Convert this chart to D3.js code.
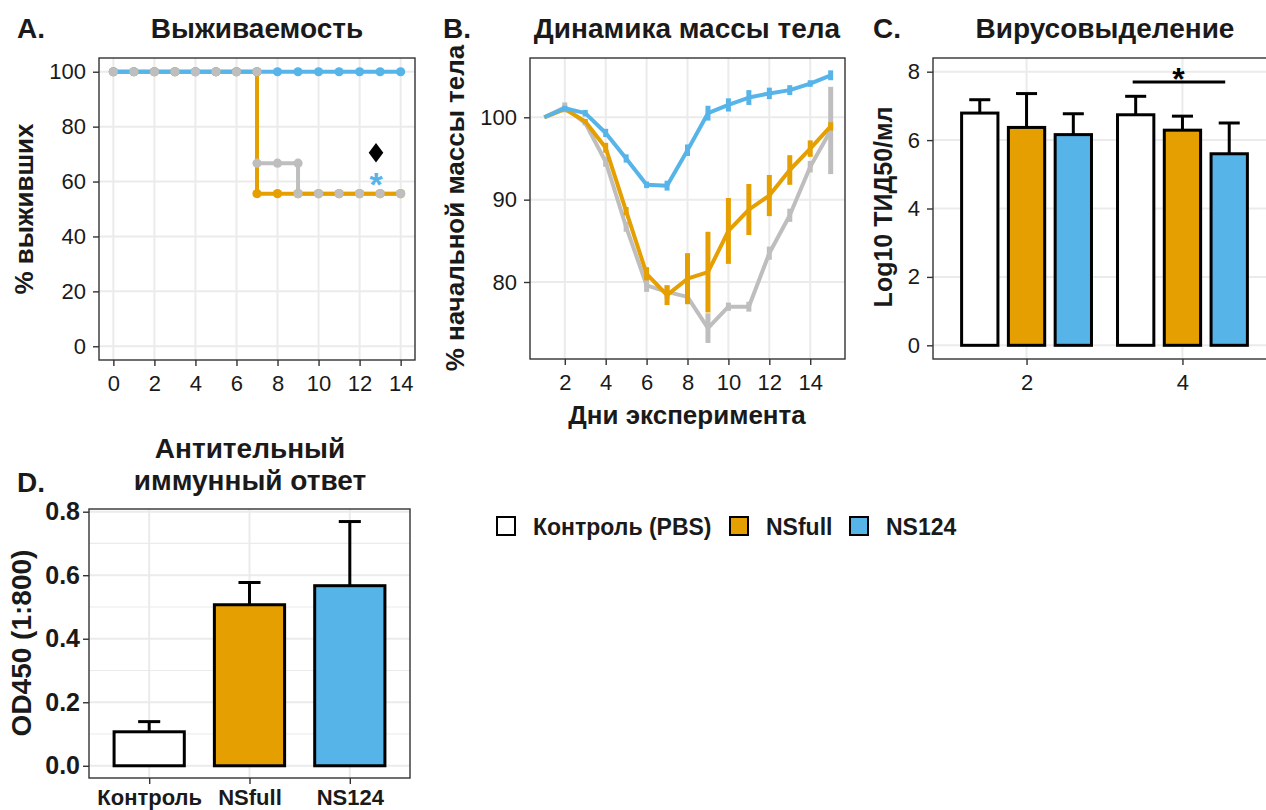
<!DOCTYPE html>
<html>
<head>
<meta charset="utf-8">
<script src="https://cdn.jsdelivr.net/npm/d3@7"></script>
<style>
body{margin:0;background:#fff;}
svg{display:block;font-family:"Liberation Sans",Arial,sans-serif;}
</style>
</head>
<body>
<script>
var colControl = "#BEBEBE", colNSfull = "#E69F00", colNS124 = "#56B4E9";

// A. survival (duplicate days give the KM steps)
var survDaysControl = [0,1,2,3,4,5,6,7,7,8,9,9,10,11,12,13,14];
var survControl = [100,100,100,100,100,100,100,100,66.7,66.7,66.7,55.6,55.6,55.6,55.6,55.6,55.6];
var survDaysNSfull = [0,1,2,3,4,5,6,7,7,8,9,10,11,12,13,14];
var survNSfull = [100,100,100,100,100,100,100,100,55.6,55.6,55.6,55.6,55.6,55.6,55.6,55.6];
var survDaysNS124 = [0,1,2,3,4,5,6,7,8,9,10,11,12,13,14];
var survNS124 = [100,100,100,100,100,100,100,100,100,100,100,100,100,100,100];
var survMarkDay = 12.8;
var survMarkY = [70.5, 61.5];

// B. body weight, % of initial
var weightDays = [1,2,3,4,5,6,7,8,9,10,11,12,13,14,15];
var weightControl = [100,101.2,99.3,94.6,86.7,79.6,78.8,78.2,74.4,77.0,77.0,83.5,88.1,94.0,98.4];
var weightControlSe = [0,0.6,0.3,0.6,0.6,0.8,0.8,0.5,1.8,0.5,0.6,0.8,0.8,0.7,5.3];
var weightNSfull = [100,101.0,99.5,96.3,88.6,81.0,78.4,80.4,81.2,86.2,88.8,90.5,93.6,96.2,98.9];
var weightNSfullSe = [0,0.3,0.3,0.6,0.5,0.8,1.2,3.1,4.9,4.0,3.1,2.5,1.8,1.0,0.5];
var weightNS124 = [100,101.1,100.5,98.1,95.0,91.8,91.7,96.0,100.5,101.5,102.4,102.9,103.3,104.1,105.1];
var weightNS124Se = [0,0.3,0.4,0.5,0.5,0.4,0.6,0.7,0.9,0.8,0.9,0.7,0.6,0.4,0.6];

// C. virus shedding
var shedDays = ["2","4"];
var shedControl = [6.79,6.74], shedControlSe = [0.39,0.54];
var shedNSfull = [6.37,6.29], shedNSfullSe = [0.99,0.41];
var shedNS124 = [6.16,5.60], shedNS124Se = [0.61,0.90];
var shedSigY = 7.7;

// D. antibody response
var abGroups = ["Контроль","NSfull","NS124"];
var abMean = [0.107,0.507,0.567];
var abSe = [0.032,0.070,0.202];

var legendLabels = ["Контроль (PBS)","NSfull","NS124"];
var legendColors = ["#ffffff", colNSfull, colNS124];

var W = 1266, H = 810;
var svg = d3.select("body").append("svg").attr("width",W).attr("height",H);
svg.append("rect").attr("width",W).attr("height",H).attr("fill","#fff");

var gridCol = "#EBEBEB", borderCol = "#333333", textCol = "#1a1a1a";
var titleSize = 28, axisTitleSize = 26, tickSize = 22;

function text(g, x, y, s, size, bold, anchor){
    return g.append("text").attr("x",x).attr("y",y).text(s)
        .attr("font-size",size).attr("font-weight",bold?"bold":"normal")
        .attr("fill",textCol).attr("text-anchor",anchor||"middle")
        .attr("dominant-baseline","central");
}

// panel frame: grid + clipped data layer, border and axes added in finish()
function panel(x0, y0, w, h, id){
    var g = svg.append("g").attr("transform","translate("+x0+","+y0+")");
    g.append("clipPath").attr("id",id).append("rect").attr("width",w).attr("height",h);
    var p = {g:g, w:w, h:h, x0:x0, y0:y0};
    p.grid = g.append("g");
    p.data = g.append("g").attr("clip-path","url(#"+id+")");
    return p;
}
function finish(p, xs, xTicks, xFmt, ys, yTicks, yFmt, opt){
    opt = opt || {};
    var g = p.g;
    if(opt.yMinor) opt.yMinor.forEach(function(v){
        p.grid.append("line").attr("x1",0).attr("x2",p.w).attr("y1",ys(v)).attr("y2",ys(v))
            .attr("stroke",gridCol).attr("stroke-width",1.2);
    });
    yTicks.forEach(function(v){
        p.grid.append("line").attr("x1",0).attr("x2",p.w).attr("y1",ys(v)).attr("y2",ys(v))
            .attr("stroke",gridCol).attr("stroke-width",2);
    });
    xTicks.forEach(function(v){
        p.grid.append("line").attr("y1",0).attr("y2",p.h).attr("x1",xs(v)).attr("x2",xs(v))
            .attr("stroke",gridCol).attr("stroke-width",2);
    });
    g.append("rect").attr("width",p.w).attr("height",p.h).attr("fill","none")
        .attr("stroke",borderCol).attr("stroke-width",1.4);
    var ax = g.append("g").attr("transform","translate(0,"+p.h+")")
        .call(d3.axisBottom(xs).tickValues(xTicks).tickFormat(xFmt).tickSize(6).tickPadding(opt.xPad||9));
    var ay = g.append("g")
        .call(d3.axisLeft(ys).tickValues(yTicks).tickFormat(yFmt).tickSize(6).tickPadding(opt.yPad||7));
    [[ax,opt.xSize||tickSize],[ay,opt.ySize||tickSize]].forEach(function(a){
        a[0].select(".domain").remove();
        a[0].selectAll("line").attr("stroke",borderCol).attr("stroke-width",1.4);
        a[0].selectAll("text").attr("font-size",a[1]).attr("fill",textCol)
            .attr("font-family","'Liberation Sans',Arial,sans-serif")
            .attr("font-weight",opt.bold?"bold":"normal");
    });
}
function yTitle(x, y, s, size){
    svg.append("text").attr("transform","translate("+x+","+y+") rotate(-90)")
        .text(s).attr("font-size",size||axisTitleSize).attr("font-weight","bold").attr("fill",textCol)
        .attr("text-anchor","middle").attr("dominant-baseline","central");
}

// ---------- A ----------
var pA = panel(99,58,316,302,"clipA");
var xA = d3.scaleLinear().domain([-0.7,14.7]).range([0,pA.w]);
var yA = d3.scaleLinear().domain([-5,105]).range([pA.h,0]);
var survGroups = [
    {days:survDaysControl, vals:survControl, col:colControl},
    {days:survDaysNSfull, vals:survNSfull, col:colNSfull},
    {days:survDaysNS124, vals:survNS124, col:colNS124}
];
var lineA = d3.line().x(function(d){return xA(d[0]);}).y(function(d){return yA(d[1]);});
survGroups.forEach(function(s){
    s.pts = s.days.map(function(d,i){return [d,s.vals[i]];});
    pA.data.append("path").attr("d",lineA(s.pts)).attr("fill","none")
        .attr("stroke",s.col).attr("stroke-width",4);
});
[survGroups[1],survGroups[2],survGroups[0]].forEach(function(s){
    pA.data.selectAll(null).data(s.pts).enter().append("circle")
        .attr("cx",function(d){return xA(d[0]);}).attr("cy",function(d){return yA(d[1]);})
        .attr("r",4.6).attr("fill",s.col);
});
// diamond marker (control vs NSfull) and blue asterisk (NS124)
pA.g.append("path").attr("d",d3.symbol(d3.symbolSquare,190)())
    .attr("transform","translate("+xA(survMarkDay)+","+yA(survMarkY[0])+") scale(0.75,1) rotate(45)")
    .attr("fill","#000");
text(pA.g, xA(survMarkDay), yA(survMarkY[1]), "*", 34, true).attr("fill",colNS124)
    .attr("dominant-baseline","alphabetic").attr("dy",19);
finish(pA, xA, [0,2,4,6,8,10,12,14], d3.format("d"), yA, [0,20,40,60,80,100], d3.format("d"));
text(svg, 257, 28, "Выживаемость", titleSize, true);
text(svg, 17, 28, "A.", titleSize, true, "start");
yTitle(24, 209, "% выживших");

// ---------- B ----------
var pB = panel(530,58,315,301,"clipB");
var xB = d3.scaleLinear().domain([0.3,15.7]).range([0,pB.w]);
var yB = d3.scaleLinear().domain([70.65,107.2]).range([pB.h,0]);
var weightGroups = [
    {vals:weightControl, se:weightControlSe, col:colControl},
    {vals:weightNSfull, se:weightNSfullSe, col:colNSfull},
    {vals:weightNS124, se:weightNS124Se, col:colNS124}
];
var lineB = d3.line().x(function(d){return xB(d.day);}).y(function(d){return yB(d.v);});
weightGroups.forEach(function(s){
    var pts = weightDays.map(function(d,i){return {day:d, v:s.vals[i], se:s.se[i]};});
    var g = pB.data.append("g");
    g.append("path").attr("d",lineB(pts)).attr("fill","none")
        .attr("stroke",s.col).attr("stroke-width",4).attr("stroke-linejoin","round");
    g.selectAll("line.err").data(pts.filter(function(d){return d.se>0;})).enter().append("line")
        .attr("x1",function(d){return xB(d.day);}).attr("x2",function(d){return xB(d.day);})
        .attr("y1",function(d){return yB(d.v-d.se);}).attr("y2",function(d){return yB(d.v+d.se);})
        .attr("stroke",s.col).attr("stroke-width",5);
});
finish(pB, xB, [2,4,6,8,10,12,14], d3.format("d"), yB, [80,90,100], d3.format("d"));
text(svg, 687, 28, "Динамика массы тела", titleSize, true);
text(svg, 443, 28, "B.", titleSize, true, "start");
yTitle(455, 208, "% начальной массы тела");
text(svg, 687, 415, "Дни эксперимента", axisTitleSize, true);

// ---------- C ----------
var pC = panel(933,58,343,301,"clipC");
var xC = d3.scaleLinear().domain([0.4,2.6]).range([0,pC.w]);
var yC = d3.scaleLinear().domain([-0.4,8.4]).range([pC.h,0]);
var shedGroups = [
    {vals:shedControl, se:shedControlSe, col:"#ffffff", off:-0.3},
    {vals:shedNSfull, se:shedNSfullSe, col:colNSfull, off:0},
    {vals:shedNS124, se:shedNS124Se, col:colNS124, off:0.3}
];
var barWC = 0.233, capC = 0.135;
shedGroups.forEach(function(s){
    shedDays.forEach(function(day,i){
        var cx = i+1+s.off;
        pC.data.append("line").attr("x1",xC(cx)).attr("x2",xC(cx))
            .attr("y1",yC(s.vals[i])).attr("y2",yC(s.vals[i]+s.se[i]))
            .attr("stroke","#000").attr("stroke-width",3);
        pC.data.append("line").attr("x1",xC(cx-capC/2)).attr("x2",xC(cx+capC/2))
            .attr("y1",yC(s.vals[i]+s.se[i])).attr("y2",yC(s.vals[i]+s.se[i]))
            .attr("stroke","#000").attr("stroke-width",3);
        pC.data.append("rect").attr("x",xC(cx-barWC/2)).attr("width",xC(barWC)-xC(0))
            .attr("y",yC(s.vals[i])).attr("height",yC(0)-yC(s.vals[i]))
            .attr("fill",s.col).attr("stroke","#000").attr("stroke-width",3);
    });
});
pC.data.append("line").attr("x1",xC(2-0.3)-3).attr("x2",xC(2+0.3)-4)
    .attr("y1",yC(shedSigY)).attr("y2",yC(shedSigY)).attr("stroke","#000").attr("stroke-width",3);
text(pC.g, xC(2)-4, yC(shedSigY), "*", 32, true).attr("fill","#000")
    .attr("dominant-baseline","alphabetic").attr("dy",8);
finish(pC, xC, [1,2], function(d){return shedDays[d-1];}, yC, [0,2,4,6,8], d3.format("d"));
text(svg, 1105, 28, "Вирусовыделение", titleSize, true);
text(svg, 873, 28, "C.", titleSize, true, "start");
yTitle(883, 207, "Log10 ТИД50/мл", 25);

// ---------- D ----------
var pD = panel(89,509,321,269,"clipD");
var xD = d3.scaleLinear().domain([0.4,3.6]).range([0,pD.w]);
var yD = d3.scaleLinear().domain([-0.0385,0.8085]).range([pD.h,0]);
var barWD = 0.7, capD = 0.22;
abGroups.forEach(function(name,i){
    var cx = i+1, col = legendColors[i];
    pD.data.append("line").attr("x1",xD(cx)).attr("x2",xD(cx))
        .attr("y1",yD(abMean[i])).attr("y2",yD(abMean[i]+abSe[i]))
        .attr("stroke","#000").attr("stroke-width",3);
    pD.data.append("line").attr("x1",xD(cx-capD/2)).attr("x2",xD(cx+capD/2))
        .attr("y1",yD(abMean[i]+abSe[i])).attr("y2",yD(abMean[i]+abSe[i]))
        .attr("stroke","#000").attr("stroke-width",3);
    pD.data.append("rect").attr("x",xD(cx-barWD/2)).attr("width",xD(barWD)-xD(0))
        .attr("y",yD(abMean[i])).attr("height",yD(0)-yD(abMean[i]))
        .attr("fill",col).attr("stroke","#000").attr("stroke-width",3);
});
finish(pD, xD, [1,2,3], function(d){return abGroups[d-1];}, yD, [0,0.2,0.4,0.6,0.8], d3.format(".1f"),
    {bold:true, yMinor:[0.1,0.3,0.5,0.7], ySize:25, xSize:22, yPad:3, xPad:5});
text(svg, 250, 448, "Антительный", titleSize, true);
text(svg, 250, 480, "иммунный ответ", titleSize, true);
text(svg, 17, 482, "D.", titleSize, true, "start");
yTitle(21, 643, "OD450 (1:800)", 28);

// ---------- legend ----------
var legX = [497, 730, 850], legTextX = [533, 766, 886];
legendLabels.forEach(function(l,i){
    svg.append("rect").attr("x",legX[i]).attr("y",517).attr("width",18).attr("height",18)
        .attr("fill",legendColors[i]).attr("stroke","#000").attr("stroke-width",2);
    text(svg, legTextX[i], 527, l, 23, true, "start");
});
</script>
</body>
</html>
